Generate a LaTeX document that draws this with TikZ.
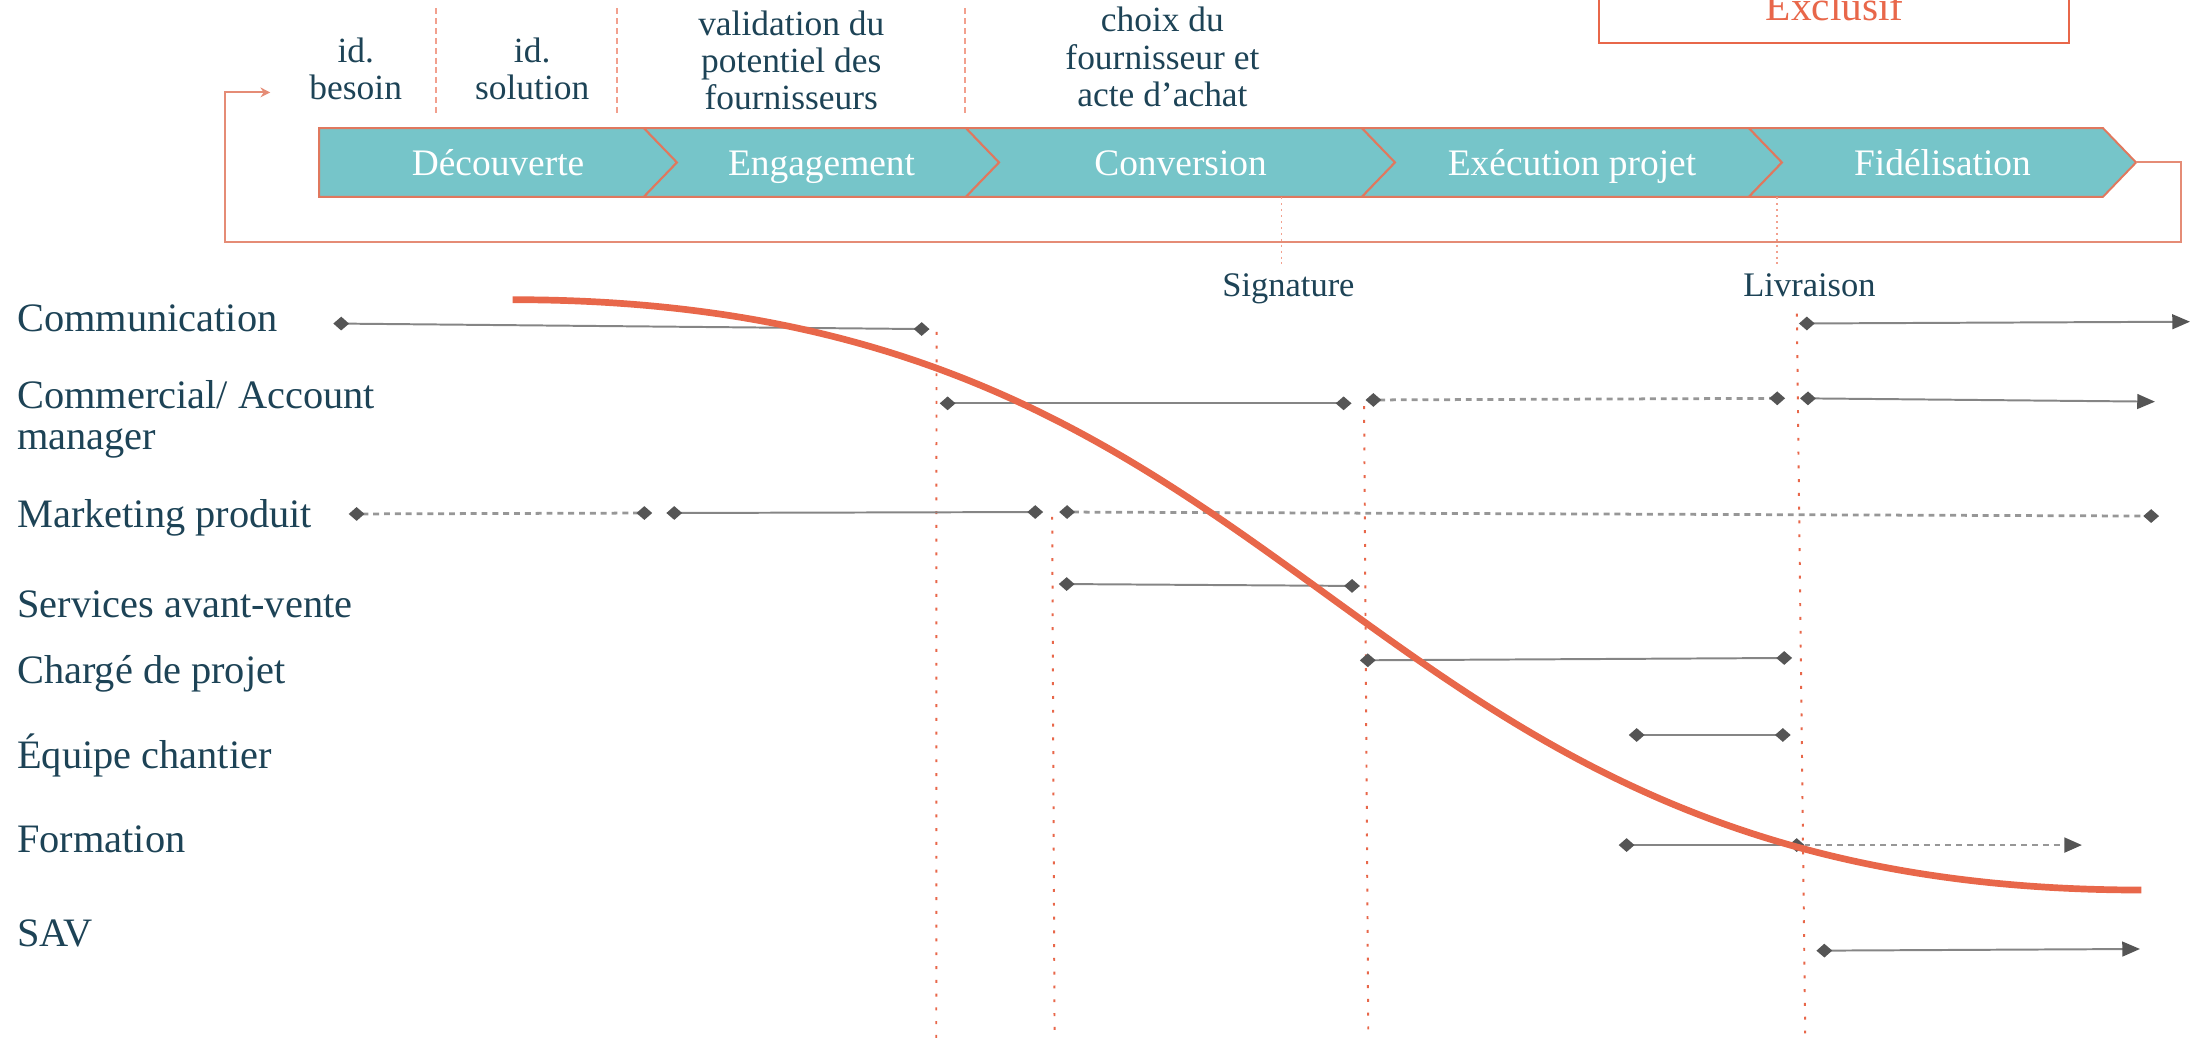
\documentclass[tikz,border=0pt]{standalone}
\usepackage{fontspec}
\setmainfont{Liberation Serif}
\usetikzlibrary{arrows.meta}
\usepackage{xcolor}
\definecolor{FunnelTeal}{HTML}{76C5C9}
\definecolor{FunnelCoral}{HTML}{E0785E}
\definecolor{FunnelRed}{HTML}{E8674A}
\definecolor{FunnelPale}{HTML}{F2A08E}
\definecolor{FunnelInk}{HTML}{1D4356}
\definecolor{FunnelLine}{HTML}{858585}
\definecolor{FunnelMark}{HTML}{555555}

\begin{document}
\begin{tikzpicture}[x=0.025cm, y=-0.025cm,
    mk/.tip={Diamond[length=8pt,width=7pt,color=FunnelMark]},
    hd/.tip={Triangle[length=9pt,width=7.5pt,color=FunnelMark]},
    stage/.style={anchor=base, inner sep=0pt, text=white, font=\fontsize{19}{21}\selectfont},
    note/.style={anchor=base, inner sep=0pt, align=center, text=FunnelInk, font=\fontsize{18}{19}\selectfont},
    role/.style={anchor=base west, inner sep=0pt, align=left, text=FunnelInk, font=\fontsize{20.5}{21}\selectfont},
    bar/.style={draw=FunnelLine, line width=1pt, mk-mk},
    barend/.style={draw=FunnelLine, line width=1pt, mk-hd},
    dots/.style={draw=FunnelLine!85, line width=1.4pt, dash pattern=on 3pt off 2.5pt, mk-mk},
    milestone/.style={draw=FunnelRed, line width=1pt, dash pattern=on 1.5pt off 5.5pt},
    sep/.style={draw=FunnelPale, line width=1pt, dash pattern=on 3pt off 2pt},
    tick/.style={draw=FunnelPale, line width=0.8pt, dash pattern=on 1pt off 2pt}]
  \useasboundingbox (0,0) rectangle (1568,741);

  % phases
  \foreach \a/\b/\txt/\nm [count=\i] in {227.8/459.8/Découverte/decouverte, 459.8/689.8/Engagement/engagement,
      689.8/972.5/Conversion/conversion, 972.5/1248.8/Exécution projet/execution, 1248.8/1501.6/Fidélisation/fidelisation} {
    \pgfmathsetmacro\n{\i==1 ? 0 : 23.6}
    \draw[FunnelCoral, fill=FunnelTeal, line width=1pt] (\a,91.5) -- (\b,91.5) -- ({\b+23.6},116) -- (\b,140.5)
      -- (\a,140.5) -- ({\a+\n},116) -- cycle;
    \node[stage] (\nm) at ({(\a+\b)/2+11.8},125) {\txt};
  }
  \coordinate (fidtip) at (1525.2,116);
  \coordinate (loopend) at (193,66);
  \draw[FunnelCoral!85, line width=1pt, -{Stealth[length=5pt,width=5pt]}] (fidtip) -- (1557,116) |- (161,173) |- (loopend);

  % sub-steps
  \node[note] (besoin) at (254,71.4) {id.\\besoin};
  \node[note] (solution) at (380,71.4) {id.\\solution};
  \node[note] (validation) at (565,78.5) {validation du\\potentiel des\\fournisseurs};
  \node[note] (choix) at (830,76) {choix du\\fournisseur et\\acte d’achat};
  \foreach \x in {311.5, 440.6, 689}
    \draw[sep] (\x,6) -- (\x,83);

  \draw[FunnelRed, line width=1pt] (1142,-20) rectangle (1477,30.5);
  \node[anchor=base, inner sep=0pt, text=FunnelRed, font=\fontsize{21}{23}\selectfont] (exclusif) at (1310,14.5) {Exclusif};

  \draw[tick] (915,141) -- (915,190);
  \draw[tick] (1269,141) -- (1269,190);
  \node[note, font=\fontsize{17.5}{19}\selectfont] (signature) at (920,211.8) {Signature};
  \node[note, font=\fontsize{17.5}{19}\selectfont] (livraison) at (1292,211.8) {Livraison};

  % roles
  \node[role] (communication) at (12,236.5) {Communication};
  \node[role] (commercial) at (12,321) {Commercial/ Account\\manager};
  \node[role] (marketing) at (12,377) {Marketing produit};
  \node[role] (avantvente) at (12,441) {Services avant-vente};
  \node[role] (chargeprojet) at (12,488) {Chargé de projet};
  \node[role] (chantier) at (12,548.6) {Équipe chantier};
  \node[role] (formation) at (12,609) {Formation};
  \node[role] (sav) at (12,676) {SAV};

  % milestones
  \draw[milestone] (668.7,237) -- (668.5,741);
  \draw[milestone] (751.3,369) -- (753,741);
  \draw[milestone] (974,290) -- (977,741);
  \draw[milestone] (1283,224) -- (1289,741);

  % involvement bars
  \path (238,231) coordinate (com1) (663.7,235) coordinate (com2) (1284.5,231) coordinate (com3) (1563.7,229.7) coordinate (com4);
  \draw[bar] (com1) -- (com2);
  \draw[barend] (com3) -- (com4);

  \path (671,288) coordinate (crm1) (965,288) coordinate (crm2) (975,285.6) coordinate (crm3)
    (1274.6,284.4) coordinate (crm4) (1285.3,284.4) coordinate (crm5) (1538.7,286.8) coordinate (crm6);
  \draw[bar] (crm1) -- (crm2);
  \draw[dots] (crm3) -- (crm4);
  \draw[barend] (crm5) -- (crm6);

  \path (249,367) coordinate (mkt1) (465.7,366.3) coordinate (mkt2) (475.8,366.3) coordinate (mkt3)
    (744.8,365.6) coordinate (mkt4) (756.3,365.6) coordinate (mkt5) (1541.6,368.5) coordinate (mkt6);
  \draw[dots] (mkt1) -- (mkt2);
  \draw[bar] (mkt3) -- (mkt4);
  \draw[dots] (mkt5) -- (mkt6);

  \path (756,417) coordinate (avv1) (971,418.4) coordinate (avv2);
  \draw[bar] (avv1) -- (avv2);

  \path (971,471.5) coordinate (cdp1) (1279.6,469.8) coordinate (cdp2);
  \draw[bar] (cdp1) -- (cdp2);

  \path (1163,524.8) coordinate (eqc1) (1278.6,524.8) coordinate (eqc2);
  \draw[bar] (eqc1) -- (eqc2);

  \path (1155.8,603.4) coordinate (frm1) (1288.5,603.4) coordinate (frm2) (1486.6,603.4) coordinate (frm3);
  \draw[bar] (frm1) -- (frm2);
  \draw[dots, -hd] (frm2) -- (frm3);

  \path (1297,678.8) coordinate (sav1) (1528,677.6) coordinate (sav2);
  \draw[barend] (sav1) -- (sav2);

  % engagement curve
  \draw[FunnelRed, line width=3.4pt] (366,214) .. controls (947.5,214) and (947.5,635.5) .. (1529,635.5);
\end{tikzpicture}
\end{document}
